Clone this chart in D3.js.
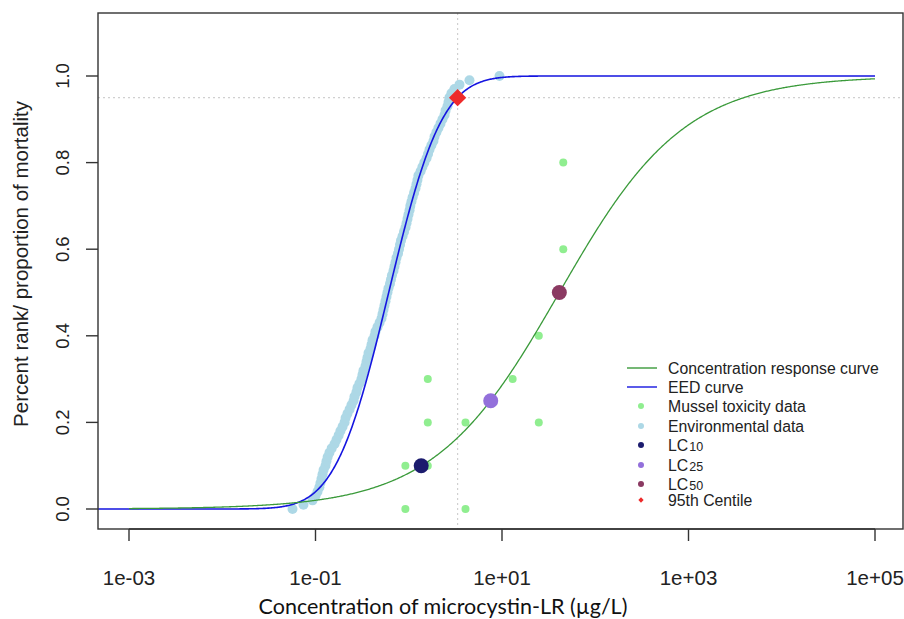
<!DOCTYPE html>
<html>
<head>
<meta charset="utf-8">
<script src="https://cdn.jsdelivr.net/npm/d3@7"></script>
<style>
  html, body { margin: 0; padding: 0; background: #fff; }
  svg { display: block; }
</style>
</head>
<body>
<div id="chart"></div>
<script>
// ---------------- DATA ----------------
const xTicks = [1e-3, 1e-1, 1e1, 1e3, 1e5];
const xTickLabels = ["1e-03", "1e-01", "1e+01", "1e+03", "1e+05"];
const yTicks = [0, 0.2, 0.4, 0.6, 0.8, 1.0];
const yTickLabels = ["0.0", "0.2", "0.4", "0.6", "0.8", "1.0"];

// Environmental data: measured concentrations (µg/L), sorted; plotted at percent rank
const envConc = [
  0.0567, 0.0743, 0.0929, 0.100, 0.105, 0.110, 0.113, 0.116, 0.119, 0.122,
  0.128, 0.131, 0.135, 0.141, 0.149, 0.160, 0.168, 0.177, 0.185, 0.195,
  0.205, 0.210, 0.220, 0.232, 0.243, 0.256, 0.262, 0.275, 0.282, 0.296,
  0.311, 0.319, 0.327, 0.344, 0.352, 0.361, 0.370, 0.389, 0.399, 0.409,
  0.430, 0.440, 0.462, 0.486, 0.510, 0.523, 0.536, 0.549, 0.563, 0.577,
  0.591, 0.606, 0.629, 0.645, 0.661, 0.686, 0.703, 0.721, 0.739, 0.767,
  0.786, 0.806, 0.826, 0.857, 0.889, 0.923, 0.946, 0.970, 0.994, 1.02,
  1.04, 1.07, 1.10, 1.14, 1.18, 1.21, 1.24, 1.27, 1.34, 1.40,
  1.47, 1.55, 1.61, 1.67, 1.75, 1.84, 1.89, 1.98, 2.08, 2.19,
  2.30, 2.42, 2.48, 2.60, 2.67, 2.73, 2.87, 3.09, 3.50, 4.48,
  9.40
];

// Mussel toxicity data
const musselConc = [0.92, 4.06, 0.92, 1.6, 1.6, 1.6, 4.06, 13.0, 24.8, 24.8, 45.4, 45.4];
const musselMort = [0, 0, 0.1, 0.1, 0.2, 0.3, 0.2, 0.3, 0.2, 0.4, 0.6, 0.8];

// Lethal concentrations
const lcNames = ["LC10", "LC25", "LC50"];
const lcConc = [1.36, 7.57, 41.2];
const lcMort = [0.10, 0.25, 0.50];

// 95th centile of environmental exposure distribution
const centileConc = 3.34;
const centileRank = 0.95;

// Fitted model parameters (log10 scale)
const crcLogMid = 1.615, crcLogScale = 0.672;   // log-logistic concentration-response
const eedLogMean = -0.215, eedLogSd = 0.448;    // log-normal EED
const crcRange = [1e-3, 1e5];
const eedRange = [1e-4, 1e5];

// ---------------- LAYOUT ----------------
const W = 904, H = 619;
const box = { left: 98, right: 903, top: 13, bottom: 529 };

const svg = d3.select("#chart").append("svg").attr("width", W).attr("height", H);

const x = d3.scaleLog().domain([1e-3, 1e5]).range([129, 875]);
const y = d3.scaleLinear().domain([0, 1]).range([509, 76]);

svg.append("clipPath").attr("id", "clip")
  .append("rect").attr("x", box.left).attr("y", box.top)
  .attr("width", box.right - box.left).attr("height", box.bottom - box.top);

const plot = svg.append("g").attr("clip-path", "url(#clip)");

// reference dotted lines
plot.append("line")
  .attr("x1", x(centileConc)).attr("x2", x(centileConc))
  .attr("y1", box.top).attr("y2", box.bottom)
  .attr("stroke", "#d0d0d0").attr("stroke-width", 1.2).attr("stroke-dasharray", "2,3");
plot.append("line")
  .attr("x1", box.left).attr("x2", box.right)
  .attr("y1", y(centileRank)).attr("y2", y(centileRank))
  .attr("stroke", "#d0d0d0").attr("stroke-width", 1.2).attr("stroke-dasharray", "2,3");

// environmental data
const nEnv = envConc.length;
plot.append("g").selectAll("circle").data(envConc).join("circle")
  .attr("cx", d => x(d)).attr("cy", (d, i) => y(i / (nEnv - 1)))
  .attr("r", 5).attr("fill", "#ADD8E6");

// model functions
function erf(z) {
  const t = 1 / (1 + 0.3275911 * Math.abs(z));
  const yv = 1 - (((((1.061405429 * t - 1.453152027) * t) + 1.421413741) * t - 0.284496736) * t + 0.254829592) * t * Math.exp(-z * z);
  return z >= 0 ? yv : -yv;
}
const eed = c => 0.5 * (1 + erf((Math.log10(c) - eedLogMean) / (eedLogSd * Math.SQRT2)));
const crc = c => 1 / (1 + Math.exp(-(Math.log10(c) - crcLogMid) / crcLogScale));

const line = d3.line().x(d => x(d[0])).y(d => y(d[1]));

const eedPts = d3.range(Math.log10(eedRange[0]), Math.log10(eedRange[1]) + 1e-9, 0.01)
  .map(l => [Math.pow(10, l), eed(Math.pow(10, l))]);
plot.append("path").attr("d", line(eedPts))
  .attr("fill", "none").attr("stroke", "#1515e0").attr("stroke-width", 1.6);

// mussel toxicity data
plot.append("g").selectAll("circle").data(musselConc).join("circle")
  .attr("cx", d => x(d)).attr("cy", (d, i) => y(musselMort[i]))
  .attr("r", 4).attr("fill", "#90EE90");

const crcPts = d3.range(Math.log10(crcRange[0]), Math.log10(crcRange[1]) + 1e-9, 0.01)
  .map(l => [Math.pow(10, l), crc(Math.pow(10, l))]);
plot.append("path").attr("d", line(crcPts))
  .attr("fill", "none").attr("stroke", "#3a9a3a").attr("stroke-width", 1.3);

// LC points
const lcColors = ["#1c1c6e", "#9370DB", "#8B3A62"];
plot.append("g").selectAll("circle").data(lcConc).join("circle")
  .attr("cx", d => x(d)).attr("cy", (d, i) => y(lcMort[i]))
  .attr("r", 7.5).attr("fill", (d, i) => lcColors[i]);

// 95th centile diamond
plot.append("path")
  .attr("d", d3.symbol().type(d3.symbolSquare).size(150)())
  .attr("transform", `translate(${x(centileConc)},${y(centileRank)}) rotate(45)`)
  .attr("fill", "#ee2a2a");

// ---------------- AXES ----------------
svg.append("rect")
  .attr("x", box.left).attr("y", box.top)
  .attr("width", box.right - box.left).attr("height", box.bottom - box.top)
  .attr("fill", "none").attr("stroke", "#333").attr("stroke-width", 1.4);

const tickFont = "Arial, 'Liberation Sans', sans-serif";
const tickLen = 12;

const xAx = svg.append("g");
xAx.append("line").attr("x1", x(xTicks[0])).attr("x2", x(xTicks[xTicks.length - 1]))
  .attr("y1", box.bottom).attr("y2", box.bottom).attr("stroke", "#333").attr("stroke-width", 1.4);
xAx.selectAll("line.t").data(xTicks).join("line").attr("class", "t")
  .attr("x1", d => x(d)).attr("x2", d => x(d))
  .attr("y1", box.bottom).attr("y2", box.bottom + tickLen)
  .attr("stroke", "#333").attr("stroke-width", 1.4);
xAx.selectAll("text").data(xTicks).join("text")
  .attr("x", d => x(d)).attr("y", 585)
  .attr("text-anchor", "middle").attr("font-family", tickFont).attr("font-size", 20.5)
  .attr("fill", "#222").text((d, i) => xTickLabels[i]);

const yAx = svg.append("g");
yAx.selectAll("line.t").data(yTicks).join("line").attr("class", "t")
  .attr("x1", box.left - tickLen).attr("x2", box.left)
  .attr("y1", d => y(d)).attr("y2", d => y(d))
  .attr("stroke", "#333").attr("stroke-width", 1.4);
yAx.selectAll("text").data(yTicks).join("text")
  .attr("transform", d => `translate(69,${y(d)}) rotate(-90)`)
  .attr("text-anchor", "middle").attr("font-family", tickFont).attr("font-size", 18.5)
  .attr("fill", "#222").text((d, i) => yTickLabels[i]);

// axis titles
svg.append("text")
  .attr("transform", `translate(28,264) rotate(-90)`)
  .attr("text-anchor", "middle").attr("font-family", tickFont).attr("font-size", 20.5)
  .attr("fill", "#222").text("Percent rank/ proportion of mortality");
svg.append("text")
  .attr("x", 443).attr("y", 614)
  .attr("text-anchor", "middle").attr("font-family", "Lato, 'Open Sans', sans-serif").attr("font-size", 21.5)
  .attr("fill", "#111").text("Concentration of microcystin-LR (µg/L)");

// ---------------- LEGEND ----------------
const legItems = [
  { type: "line", color: "#3a9a3a", label: "Concentration response curve" },
  { type: "line", color: "#1515e0", label: "EED curve" },
  { type: "dot", color: "#90EE90", label: "Mussel toxicity data" },
  { type: "dot", color: "#ADD8E6", label: "Environmental data" },
  { type: "dot", color: lcColors[0], label: "LC", sub: "10" },
  { type: "dot", color: lcColors[1], label: "LC", sub: "25" },
  { type: "dot", color: lcColors[2], label: "LC", sub: "50" },
  { type: "diamond", color: "#ee2a2a", label: "95th Centile" }
];
const legY = [368, 387, 406, 426, 445, 465, 484, 500];
const leg = svg.append("g");
legItems.forEach((it, i) => {
  const g = leg.append("g").attr("transform", `translate(0,${legY[i]})`);
  if (it.type === "line") {
    g.append("line").attr("x1", 627).attr("x2", 657).attr("y1", 0).attr("y2", 0)
      .attr("stroke", it.color).attr("stroke-width", 1.4);
  } else if (it.type === "dot") {
    g.append("circle").attr("cx", 641).attr("cy", 0).attr("r", 3).attr("fill", it.color);
  } else {
    g.append("path").attr("d", d3.symbol().type(d3.symbolSquare).size(14)())
      .attr("transform", "translate(641,0) rotate(45)").attr("fill", it.color);
  }
  const t = g.append("text").attr("x", 668).attr("y", 5.5)
    .attr("font-family", tickFont).attr("font-size", 15.8).attr("fill", "#222");
  t.append("tspan").text(it.label);
  if (it.sub) t.append("tspan").attr("font-size", 12.5).attr("dx", 1).text(it.sub);
});
</script>
</body>
</html>
